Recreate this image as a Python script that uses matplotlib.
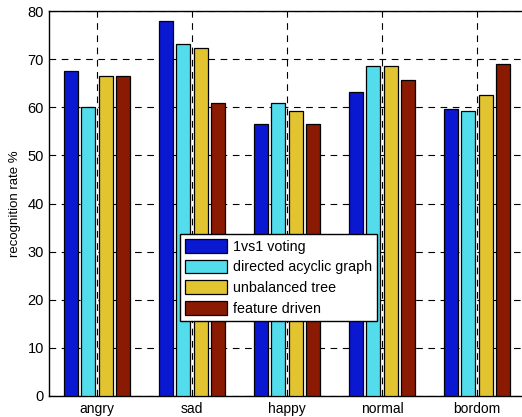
import matplotlib
matplotlib.use('Agg')
import matplotlib.pyplot as plt
import numpy as np

plt.rcParams['font.family'] = ['Liberation Sans', 'DejaVu Sans']

# 数据
categories = ['angry', 'sad', 'happy', 'normal', 'bordom']
series_names = ['1vs1 voting', 'directed acyclic graph', 'unbalanced tree', 'feature driven']
voting = [67.5, 78.0, 56.6, 63.1, 59.6]
dag = [60.0, 73.2, 61.0, 68.5, 59.2]
unbalanced = [66.6, 72.4, 59.2, 68.5, 62.6]
feature = [66.6, 61.0, 56.5, 65.7, 68.9]
y_ticks = [0, 10, 20, 30, 40, 50, 60, 70, 80]

colors = ['#0A18D2', '#52DCEC', '#E2C430', '#8A1A02']

fig = plt.figure(figsize=(5.22, 4.17), dpi=100, facecolor='white')
# 右边框被裁掉了, 所以坐标轴稍微超出画布
ax = fig.add_axes([0.0948, 0.0504, 0.91, 0.923])

x = np.arange(1, len(categories) + 1)
step = 0.182
width = 0.15
all_series = [voting, dag, unbalanced, feature]
for i, (vals, name, c) in enumerate(zip(all_series, series_names, colors)):
    offset = (i - 1.5) * step
    ax.bar(x + offset, vals, width=width, color=c, edgecolor='black',
           linewidth=0.9, label=name, zorder=3)

ax.set_xlim(0.5, 5.5)
ax.set_ylim(0, 80)
ax.set_xticks(x)
ax.set_xticklabels(categories, fontsize=10)
ax.set_yticks(y_ticks)
ax.tick_params(axis='y', labelsize=10.5, length=0, pad=4)
ax.tick_params(axis='x', length=0, pad=4)
ax.grid(True, color='black', linestyle=(0, (6, 5)), linewidth=0.8, zorder=0)
ax.set_axisbelow(True)
ax.set_ylabel('recognition rate %', fontsize=9.5, labelpad=5)
for sp in ax.spines.values():
    sp.set_linewidth(1.0)
ax.spines['right'].set_visible(False)

leg = ax.legend(loc='upper left', bbox_to_anchor=(0.274, 0.421), fontsize=10.25,
                frameon=True, fancybox=False, edgecolor='black', framealpha=1,
                handlelength=3.0, handleheight=1.1, handletextpad=0.4,
                labelspacing=0.42, borderpad=0.35, borderaxespad=0)
leg.get_frame().set_linewidth(1.0)

plt.savefig('out.png', dpi=100, facecolor=fig.get_facecolor())
